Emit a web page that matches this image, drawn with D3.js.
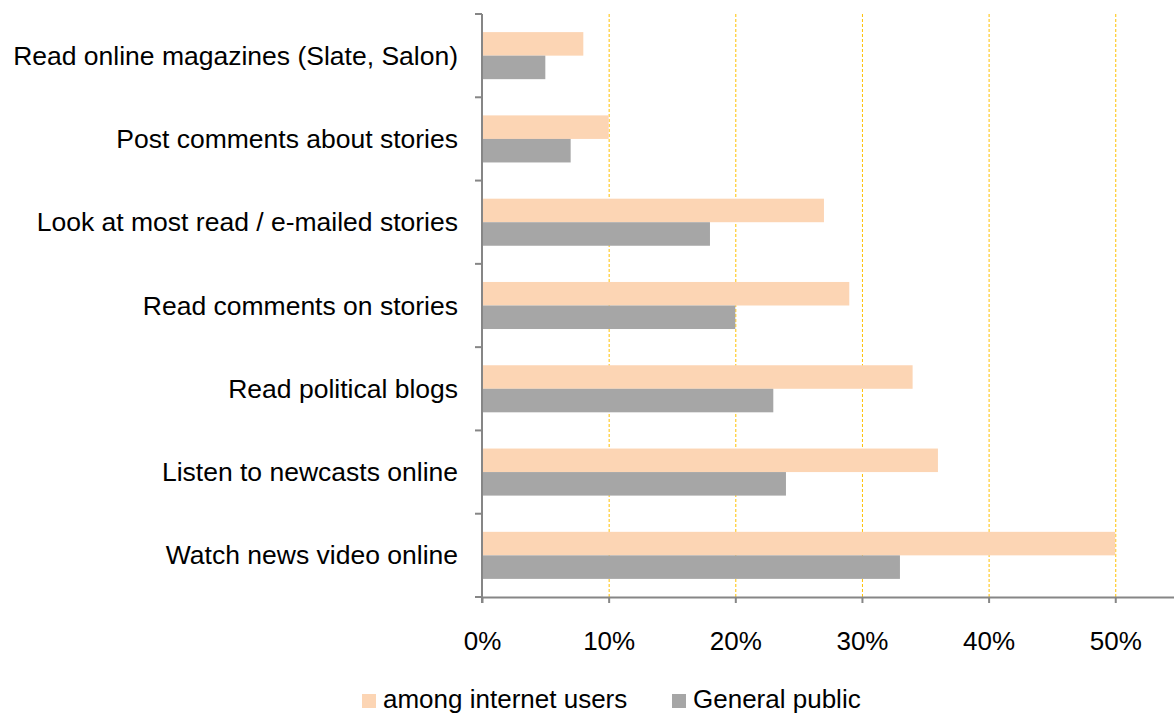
<!DOCTYPE html>
<html>
<head>
<meta charset="utf-8">
<script src="https://cdn.jsdelivr.net/npm/d3@7"></script>
<style>
  html, body { margin: 0; padding: 0; background: #fff; }
  svg { display: block; font-family: "Liberation Sans", Arial, sans-serif; }
</style>
</head>
<body>
<svg id="chart" width="1174" height="715"></svg>
<script>
// Online news activities, top to bottom
const categories = [
  "Read online magazines (Slate, Salon)",
  "Post comments about stories",
  "Look at most read / e-mailed stories",
  "Read comments on stories",
  "Read political blogs",
  "Listen to newcasts online",
  "Watch news video online"
];
const internetUsers = [8, 10, 27, 29, 34, 36, 50];
const generalPublic = [5, 7, 18, 20, 23, 24, 33];
const seriesNames = ["among internet users", "General public"];
const tickValues = [0, 10, 20, 30, 40, 50];

const colors = ["#FCD5B4", "#A6A6A6"];
const axisColor = "#868686";

const svg = d3.select("#chart");
const plot = { left: 482, top: 14, bottom: 597, right: 1174 };

const x = d3.scaleLinear().domain([0, 60]).range([plot.left, plot.left + 6 * 126.65]);
const y = d3.scaleBand().domain(categories).range([plot.top, plot.bottom]).paddingInner(0.435).paddingOuter(0.2175);
const sub = d3.scaleBand().domain([0, 1]).range([0, y.bandwidth()]);

// vertical gridlines
svg.append("g").selectAll("line")
  .data(tickValues.filter(d => d > 0))
  .join("line")
  .attr("x1", d => x(d) + 0.5).attr("x2", d => x(d) + 0.5)
  .attr("y1", plot.top).attr("y2", plot.bottom)
  .attr("stroke", "#FFC000").attr("stroke-width", 1)
  .attr("stroke-dasharray", "3,2");

// bars
const rows = categories.map((c, i) => ({ c, vals: [internetUsers[i], generalPublic[i]] }));
const groups = svg.append("g").selectAll("g")
  .data(rows).join("g")
  .attr("transform", d => `translate(0,${y(d.c)})`);
groups.selectAll("rect")
  .data(d => d.vals.map((v, k) => ({ v, k })))
  .join("rect")
  .attr("x", x(0))
  .attr("y", d => sub(d.k))
  .attr("width", d => x(d.v) - x(0))
  .attr("height", sub.bandwidth())
  .attr("fill", d => colors[d.k]);

// x axis
const xAxis = d3.axisBottom(x).tickValues(tickValues).tickSize(6).tickSizeOuter(0)
  .tickFormat(d => d + "%");
const gx = svg.append("g").attr("transform", `translate(0,${plot.bottom})`).call(xAxis);
gx.select(".domain").remove();
gx.append("line").attr("x1", plot.left).attr("x2", plot.right).attr("y1", 0.5).attr("y2", 0.5)
  .attr("stroke", axisColor).attr("stroke-width", 2);
gx.selectAll(".tick line").attr("stroke", axisColor).attr("stroke-width", 2);
gx.selectAll(".tick text").attr("fill", "#000").attr("font-size", 26).attr("dy", 0)
  .attr("y", 53).attr("font-family", "Liberation Sans, Arial, sans-serif");

// y axis: line with ticks at category boundaries
const gy = svg.append("g");
gy.append("line").attr("x1", plot.left).attr("x2", plot.left)
  .attr("y1", plot.top).attr("y2", plot.bottom + 6)
  .attr("stroke", axisColor).attr("stroke-width", 2);
const bounds = d3.range(categories.length + 1).map(i => plot.top + i * (plot.bottom - plot.top) / categories.length);
gy.selectAll("line.tk").data(bounds).join("line").attr("class", "tk")
  .attr("x1", plot.left - 7).attr("x2", plot.left)
  .attr("y1", d => d).attr("y2", d => d)
  .attr("stroke", axisColor).attr("stroke-width", 2);
gy.selectAll("text").data(categories).join("text")
  .attr("x", plot.left - 24)
  .attr("y", d => y(d) + y.bandwidth() / 2 + 9)
  .attr("text-anchor", "end")
  .attr("font-size", 26.5)
  .attr("fill", "#000")
  .text(d => d);

// legend
const legend = svg.append("g");
const legendItems = [{ x: 362, name: seriesNames[0], color: colors[0] }, { x: 672, name: seriesNames[1], color: colors[1] }];
legendItems.forEach(it => {
  legend.append("rect").attr("x", it.x).attr("y", 694).attr("width", 14).attr("height", 14).attr("fill", it.color);
  legend.append("text").attr("x", it.x + 21).attr("y", 708).attr("font-size", 26).attr("fill", "#000").text(it.name);
});
</script>
</body>
</html>
